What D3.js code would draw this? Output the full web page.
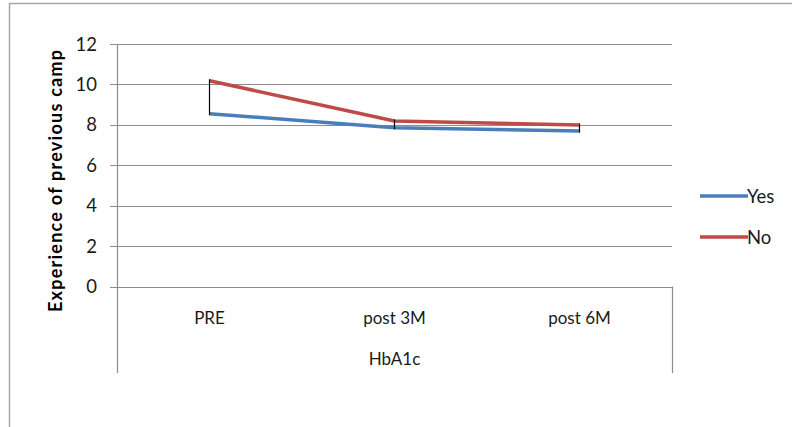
<!DOCTYPE html>
<html>
<head>
<meta charset="utf-8">
<script src="https://cdn.jsdelivr.net/npm/d3@7"></script>
<style>
  html, body { margin: 0; padding: 0; background: #fff; }
  svg { display: block; font-family: Lato, "Open Sans", sans-serif; }
</style>
</head>
<body>
<svg id="chart" width="792" height="427"></svg>
<script>
const categories = ["PRE", "post 3M", "post 6M"];
const groupLabel = "HbA1c";
const seriesNames = ["Yes", "No"];
const yesValues = [8.55, 7.86, 7.69];
const noValues = [10.18, 8.19, 7.99];
const yTicks = [0, 2, 4, 6, 8, 10, 12];
const yTitle = "Experience of previous camp";
const colors = ["#4A7EBB", "#BE4B48"];

const svg = d3.select("#chart");
const pLeft = 117, pRight = 672, pTop = 44, pBottom = 286.5;

// outer border
svg.append("rect").attr("x", 9.5).attr("y", 3.5).attr("width", 800).attr("height", 440)
  .attr("fill", "none").attr("stroke", "#a6a6a6").attr("stroke-width", 1.5);

const x = d3.scaleBand().domain(categories).range([pLeft, pRight]);
const y = d3.scaleLinear().domain([0, 12]).range([pBottom, pTop]);

// gridlines
svg.append("g").selectAll("line").data(yTicks).join("line")
  .attr("x1", pLeft - 7).attr("x2", pRight)
  .attr("y1", d => Math.round(y(d)) + 0.5).attr("y2", d => Math.round(y(d)) + 0.5)
  .attr("stroke", "#8c8c8c").attr("stroke-width", 1.2);

// y axis line
svg.append("line").attr("x1", pLeft + 0.5).attr("x2", pLeft + 0.5)
  .attr("y1", pTop).attr("y2", 373).attr("stroke", "#8c8c8c").attr("stroke-width", 1.2);
// right category separator below axis
svg.append("line").attr("x1", pRight + 0.5).attr("x2", pRight + 0.5)
  .attr("y1", pBottom).attr("y2", 373).attr("stroke", "#8c8c8c").attr("stroke-width", 1.2);

// y tick labels
svg.append("g").selectAll("text").data(yTicks).join("text")
  .attr("x", 97).attr("y", d => y(d)).attr("dy", "0.36em")
  .attr("text-anchor", "end").attr("font-size", 18.5).attr("fill", "#1a1a1a")
  .text(d => d);

// category labels
svg.append("g").selectAll("text").data(categories).join("text")
  .attr("x", d => x(d) + x.bandwidth() / 2).attr("y", 317.5).attr("dy", "0.36em")
  .attr("text-anchor", "middle").attr("font-size", 17).attr("fill", "#1a1a1a")
  .text(d => d);
svg.append("text").attr("x", (pLeft + pRight) / 2).attr("y", 359).attr("dy", "0.36em")
  .attr("text-anchor", "middle").attr("font-size", 17).attr("fill", "#1a1a1a").text(groupLabel);

// y title
svg.append("text").attr("transform", `translate(56,181) rotate(-90)`)
  .attr("dy", "0.36em").attr("text-anchor", "middle").attr("font-size", 18)
  .attr("textLength", 262).attr("lengthAdjust", "spacing")
  .attr("font-weight", "bold").attr("fill", "#000").text(yTitle);

// series lines
const line = d3.line().x((d, i) => x(categories[i]) + x.bandwidth() / 2).y(d => y(d));
[yesValues, noValues].forEach((vals, si) => {
  svg.append("path").datum(vals).attr("d", line).attr("fill", "none")
    .attr("stroke", colors[si]).attr("stroke-width", 3.5).attr("stroke-linejoin", "round");
});

// high-low lines
svg.append("g").selectAll("line").data(categories).join("line")
  .attr("x1", d => x(d) + x.bandwidth() / 2).attr("x2", d => x(d) + x.bandwidth() / 2)
  .attr("y1", (d, i) => y(noValues[i]) - 1.5).attr("y2", (d, i) => y(yesValues[i]) + 1.5)
  .attr("stroke", "#000").attr("stroke-width", 1.2);

// legend
const lg = svg.append("g");
seriesNames.forEach((n, i) => {
  const ly = 196 + i * 41;
  lg.append("line").attr("x1", 700).attr("x2", 748).attr("y1", ly).attr("y2", ly)
    .attr("stroke", colors[i]).attr("stroke-width", 3.5);
  lg.append("text").attr("x", 747).attr("y", ly).attr("dy", "0.36em")
    .attr("font-size", 18.5).attr("fill", "#1a1a1a").text(n);
});
</script>
</body>
</html>
